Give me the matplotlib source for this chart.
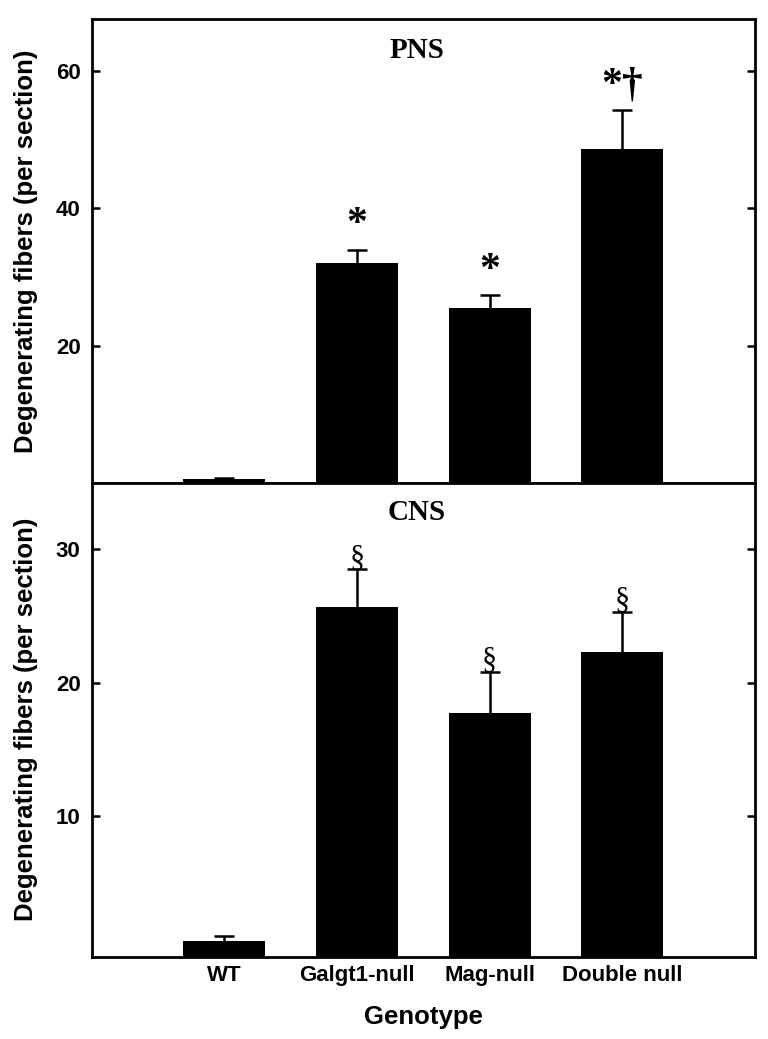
import matplotlib
matplotlib.use("Agg")
import matplotlib.pyplot as plt
import numpy as np

# genotypes on the x axis
genotypes = ["WT", "Galgt1-null", "Mag-null", "Double null"]

# PNS: mean and SEM (upper error only)
pns_mean = [0.5, 32.0, 25.5, 48.6]
pns_err = [0.25, 1.9, 1.8, 5.7]
pns_marks = ["", "*", "*", "*\u2020"]

# CNS: mean and SEM
cns_mean = [0.6, 25.7, 17.7, 22.3]
cns_err = [0.35, 2.8, 3.1, 3.0]
cns_marks = ["", "\u00a7", "\u00a7", "\u00a7"]

pns_ticks = [20, 40, 60]
cns_ticks = [10, 20, 30]

SANS = "Liberation Sans"
SERIF = "Liberation Serif"

fig = plt.figure(figsize=(7.68, 10.39), dpi=100)
ax_top = fig.add_axes([0.1194, 0.5354, 0.8636, 0.4463])
ax_bot = fig.add_axes([0.1194, 0.0792, 0.8636, 0.4562])

x = np.arange(1, len(genotypes) + 1)


def draw_panel(ax, means, errs, marks, ylim, ticks, title, mark_kw, mark_pad):
    base = ylim[0]
    means = np.asarray(means)
    tops = means + np.asarray(errs)
    ax.bar(x, means - base, bottom=base, width=0.62, color="black", zorder=2)
    # one-sided error bars: stem + upper cap only
    ax.vlines(x, means, tops, color="black", linewidth=1.8, zorder=1)
    ax.plot(x, tops, ls="none", marker="_", ms=14, mew=1.8, color="black",
            zorder=1)
    for xi, t, s in zip(x, tops, marks):
        if s:
            ax.text(xi, t + mark_pad, s, ha="center", **mark_kw)
    ax.set_xlim(0, 5)
    ax.set_ylim(*ylim)
    ax.set_yticks(ticks)
    ax.set_yticklabels([str(t) for t in ticks], fontfamily=SANS,
                       fontweight="bold", fontsize=16)
    ax.tick_params(axis="y", direction="in", length=6, width=1.8,
                   right=True, pad=8)
    for sp in ax.spines.values():
        sp.set_linewidth(2.0)
    ax.set_ylabel("Degenerating fibers (per section)", fontfamily=SANS,
                  fontweight="bold", fontsize=18.5)
    ax.yaxis.set_label_coords(-0.081, 0.5)
    ax.text(0.49, title[1], title[0], transform=ax.transAxes, ha="center",
            va="center", fontfamily=SERIF, fontweight="bold", fontsize=21)


draw_panel(ax_top, pns_mean, pns_err, pns_marks, (0, 67.6), pns_ticks,
           ("PNS", 0.933),
           dict(va="center", fontfamily=SERIF, fontweight="bold", fontsize=30),
           3.6)
ax_top.set_xticks([])

draw_panel(ax_bot, cns_mean, cns_err, cns_marks, (-0.58, 35.0), cns_ticks,
           ("CNS", 0.938),
           dict(va="bottom", fontfamily=SERIF, fontsize=22),
           -0.3)
ax_bot.set_xticks(x)
ax_bot.set_xticklabels(genotypes, fontfamily=SANS, fontweight="bold", fontsize=16)
ax_bot.tick_params(axis="x", length=0, pad=6)
ax_bot.set_xlabel("Genotype", fontfamily=SANS, fontweight="bold",
                  fontsize=18.5, labelpad=14)

fig.savefig("out.png", dpi=100, facecolor="white")
